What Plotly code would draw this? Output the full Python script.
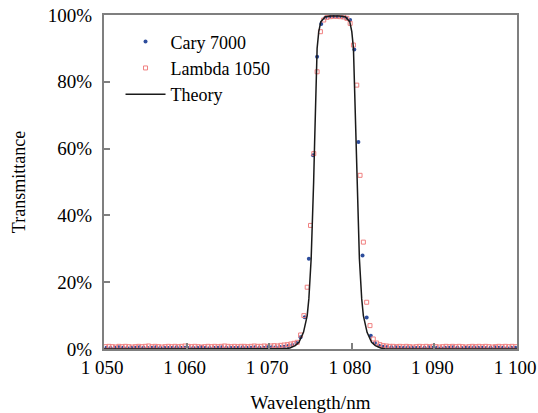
import plotly.graph_objects as go

# ---- data ----
cary_wl = [round(1050.3 + 0.5 * i, 1) for i in range(100)]
cary_T = [
    0.4, 0.3, 0.4, 0.5, 0.4, 0.3, 0.4, 0.4, 0.5, 0.4,
    0.3, 0.4, 0.5, 0.4, 0.4, 0.3, 0.4, 0.5, 0.4, 0.4,
    0.3, 0.4, 0.4, 0.5, 0.4, 0.3, 0.4, 0.4, 0.5, 0.4,
    0.4, 0.3, 0.4, 0.5, 0.4, 0.4, 0.5, 0.4, 0.4, 0.5,
    0.5, 0.5, 0.6, 0.7, 0.9, 1.2, 1.8, 3.5, 9.5, 27.0,
    58.0, 87.5, 97.3, 99.2, 99.5, 99.6, 99.5, 99.4, 99.2, 98.5,
    89.7, 62.0, 28.0, 9.4, 4.0, 1.8, 1.0, 0.7, 0.6, 0.5,
    0.5, 0.4, 0.4, 0.5, 0.4, 0.3, 0.4, 0.4, 0.5, 0.4,
    0.4, 0.3, 0.4, 0.4, 0.5, 0.4, 0.3, 0.4, 0.4, 0.5,
    0.4, 0.4, 0.3, 0.4, 0.5, 0.4, 0.4, 0.3, 0.4, 0.4,
]

lambda_wl = [round(1050.2 + 0.4 * i, 1) for i in range(125)]
lambda_T = [
    0.7, 0.8, 0.7, 0.6, 0.8, 0.7, 0.8, 0.7, 0.6, 0.7,
    0.8, 0.7, 0.8, 0.9, 0.7, 0.8, 0.7, 0.6, 0.7, 0.8,
    0.7, 0.8, 0.7, 0.8, 0.9, 0.8, 0.7, 0.8, 0.7, 0.6,
    0.7, 0.8, 0.7, 0.8, 0.7, 0.8, 0.9, 0.8, 0.7, 0.8,
    0.7, 0.8, 0.8, 0.7, 0.8, 0.9, 0.8, 0.8, 0.9, 0.8,
    0.9, 1.0, 0.9, 1.1, 1.2, 1.3, 1.5, 1.7, 2.0, 4.2,
    10.0, 18.5, 37.0, 58.5, 83.0, 95.0, 98.5, 99.3, 99.5, 99.6,
    99.6, 99.5, 99.4, 99.0, 97.5, 91.0, 79.0, 52.0, 32.0, 14.0,
    7.0, 3.0, 1.8, 1.3, 1.0, 0.9, 0.8, 0.8, 0.7, 0.8,
    0.7, 0.8, 0.7, 0.6, 0.7, 0.8, 0.7, 0.8, 0.7, 0.8,
    0.7, 0.6, 0.7, 0.8, 0.7, 0.8, 0.7, 0.8, 0.7, 0.6,
    0.7, 0.8, 0.7, 0.8, 0.7, 0.8, 0.7, 0.6, 0.7, 0.8,
    0.7, 0.8, 0.7, 0.8, 0.7,
]

theory_wl = [1050.0, 1072.0, 1072.5, 1073.15, 1073.6, 1074.15, 1074.6, 1074.8,
             1075.08, 1075.27, 1075.38, 1075.5, 1075.65, 1075.8, 1076.0, 1076.25,
             1076.8, 1077.5, 1078.5, 1079.2, 1079.75, 1080.0, 1080.2, 1080.35,
             1080.5, 1080.62, 1080.73, 1080.92, 1081.2, 1081.4, 1081.85, 1082.4,
             1082.85, 1083.5, 1084.0, 1100.0]
theory_T = [0.0, 0.05, 0.3, 1.0, 2.0, 5.0, 10.0, 15.0,
            27.0, 40.0, 50.0, 62.0, 75.0, 90.0, 95.0, 98.0,
            99.5, 99.7, 99.7, 99.5, 98.0, 95.0, 90.0, 75.0,
            62.0, 50.0, 40.0, 27.0, 15.0, 10.0, 5.0, 2.0,
            1.0, 0.3, 0.05, 0.0]

x_tickvals = [1050, 1060, 1070, 1080, 1090, 1100]
x_ticktext = ["1 050", "1 060", "1 070", "1 080", "1 090", "1 100"]
y_tickvals = [0, 20, 40, 60, 80, 100]
y_ticktext = ["0%", "20%", "40%", "60%", "80%", "100%"]

FONT = "Liberation Serif, Times New Roman, serif"
AX = "#7f7f7f"

fig = go.Figure()
fig.add_trace(go.Scatter(
    x=cary_wl, y=cary_T, mode="markers", name="Cary 7000",
    marker=dict(symbol="circle", size=4, color="#2d4d9c"),
    cliponaxis=False,
))
fig.add_trace(go.Scatter(
    x=lambda_wl, y=lambda_T, mode="markers", name="Lambda 1050",
    marker=dict(symbol="square-open", size=4, color="#f08080", line=dict(width=1)),
    cliponaxis=False,
))
fig.add_trace(go.Scatter(
    x=theory_wl, y=theory_T, mode="lines", name="Theory",
    line=dict(color="#1a1a1a", width=1.5),
))

# plot area at x 104-517, y 15-349
fig.update_layout(
    width=538, height=413,
    margin=dict(l=104, r=21, t=15, b=64, autoexpand=False),
    paper_bgcolor="white", plot_bgcolor="white",
    font=dict(family=FONT, size=19, color="black"),
    showlegend=True,
    legend=dict(
        x=0.04, y=0.975, xanchor="left", yanchor="top",
        bgcolor="rgba(0,0,0,0)", borderwidth=0,
        font=dict(family=FONT, size=18, color="black"),
        tracegroupgap=0, itemwidth=40,
    ),
)
fig.update_xaxes(
    range=[1050, 1100], tickmode="array", tickvals=x_tickvals, ticktext=x_ticktext,
    ticks="inside", ticklen=6, tickwidth=1.5, tickcolor=AX,
    showline=True, linecolor=AX, linewidth=2, mirror=True,
    showgrid=False, zeroline=False, automargin=False, ticklabeloverflow="allow",
    ticklabelstandoff=0, ticklabelshift=-2,
    title=dict(text="Wavelength/nm", font=dict(family=FONT, size=19), standoff=20),
    tickfont=dict(family=FONT, size=19),
)
fig.update_yaxes(
    range=[0, 100], tickmode="array", tickvals=y_tickvals, ticktext=y_ticktext,
    ticks="inside", ticklen=6, tickwidth=1.5, tickcolor=AX,
    showline=True, linecolor=AX, linewidth=2, mirror=True,
    showgrid=False, zeroline=False, automargin=False, ticklabeloverflow="allow",
    ticklabelstandoff=6,
    title=dict(text="Transmittance", font=dict(family=FONT, size=18), standoff=18),
    tickfont=dict(family=FONT, size=19),
)

fig.write_html(
    "out.html",
    config={"displayModeBar": False},
    post_script="document.body.style.margin='0';document.body.style.overflow='hidden';",
)
